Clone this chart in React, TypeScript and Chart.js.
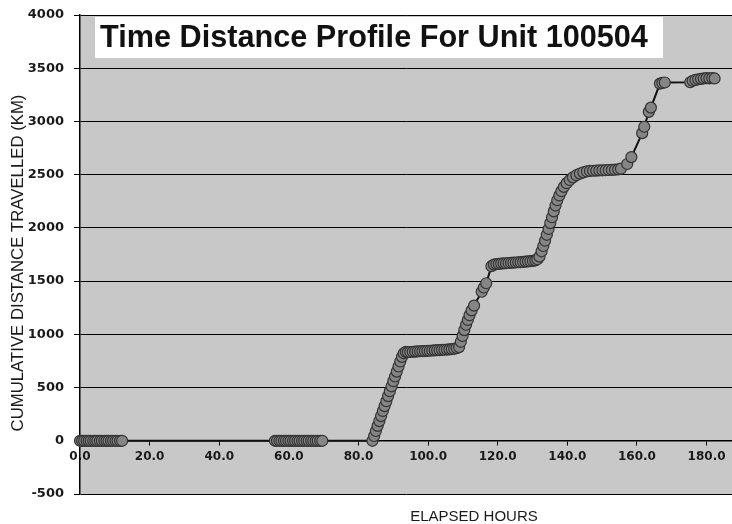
import { useEffect, useRef } from "react";
import { Chart, registerables } from "chart.js";

Chart.register(...registerables);

const chartTitle = "Time Distance Profile For Unit 100504";
const xAxisTitle = "ELAPSED HOURS";
const yAxisTitle = "CUMULATIVE DISTANCE TRAVELLED (KM)";

const xTickValues = [0, 20, 40, 60, 80, 100, 120, 140, 160, 180];
const yTickValues = [-500, 0, 500, 1000, 1500, 2000, 2500, 3000, 3500, 4000];

const elapsedHours = [
  // first stationary cluster
  0.0, 0.6, 1.2, 1.9, 2.5, 3.1, 3.8, 4.4, 5.0, 5.7, 6.3, 7.0, 7.6, 8.2, 8.9, 9.5, 10.2, 10.8, 11.5, 12.1,
  // second stationary cluster
  56.0, 56.6, 57.3, 57.9, 58.6, 59.2, 59.9, 60.5, 61.2, 61.8, 62.5, 63.1, 63.8, 64.4, 65.1, 65.7, 66.4, 67.0, 67.7, 68.3, 69.0, 69.6,
  // first climb
  84.0, 84.5, 85.0, 85.5, 86.0, 86.5, 87.0, 87.5, 88.0, 88.5, 89.0, 89.5, 90.0, 90.5, 91.0, 91.5, 92.0, 92.5, 93.0, 93.6,
  // plateau ~840
  94.2, 94.9, 95.6, 96.3, 97.0, 97.7, 98.4, 99.1, 99.8, 100.5, 101.2, 101.9, 102.6, 103.3, 104.0, 104.7, 105.4, 106.1, 106.8, 107.5, 108.2,
  // second climb
  108.9, 109.4, 109.9, 110.4, 110.9, 111.4, 111.9, 112.5, 113.2, 115.4, 116.0, 116.7, 118.2,
  // plateau ~1670
  118.9, 119.6, 120.3, 121.0, 121.7, 122.4, 123.1, 123.8, 124.5, 125.2, 125.9, 126.6, 127.3, 128.0, 128.7, 129.4, 130.1, 130.8, 131.4,
  // third climb
  132.0, 132.6, 133.1, 133.6, 134.1, 134.6, 135.1, 135.6, 136.1, 136.6, 137.1, 137.7, 138.3, 139.0, 139.8, 140.7, 141.6, 142.6, 143.6, 144.6, 145.6,
  // plateau ~2540
  146.5, 147.4, 148.3, 149.2, 150.1, 151.0, 151.9, 152.8, 153.7, 154.6, 155.4,
  // final climb
  157.2, 158.4, 161.5, 162.1, 163.4, 164.0, 166.6, 167.3, 168.0,
  // end cluster
  175.3, 176.0, 176.8, 177.6, 178.4, 179.2, 180.0, 180.8, 181.6, 182.3,
];

const cumulativeKm = [
  0, 0, 0, 0, 0, 0, 0, 0, 0, 0, 0, 0, 0, 0, 0, 0, 0, 0, 0, 0,
  0, 0, 0, 0, 0, 0, 0, 0, 0, 0, 0, 0, 0, 0, 0, 0, 0, 0, 0, 0, 0, 0,
  0, 45, 92, 140, 185, 232, 280, 326, 372, 420, 466, 512, 560, 604, 650, 698, 745, 788, 822, 835,
  833, 834, 836, 838, 839, 841, 842, 843, 845, 846, 848, 849, 851, 852, 854, 855, 857, 859, 861, 864, 871,
  880, 930, 985, 1040, 1090, 1135, 1180, 1225, 1270, 1400, 1440, 1480, 1640,
  1655, 1660, 1662, 1665, 1667, 1668, 1670, 1672, 1673, 1675, 1677, 1678, 1680, 1683, 1685, 1687, 1690, 1695, 1705,
  1730, 1780, 1830, 1880, 1935, 1990, 2045, 2100, 2155, 2210, 2260, 2305, 2345, 2385, 2420, 2450, 2475, 2495, 2510, 2522, 2530,
  2535, 2537, 2538, 2540, 2541, 2542, 2544, 2545, 2547, 2550, 2556,
  2600, 2665, 2890, 2950, 3090, 3130, 3355, 3362, 3366,
  3368, 3382, 3390, 3396, 3400, 3404, 3407, 3405, 3407, 3404,
];

export default function App() {
  const ref = useRef<HTMLCanvasElement>(null);

  useEffect(() => {
    if (!ref.current) return;
    const points = elapsedHours.map((x, i) => ({ x, y: cumulativeKm[i] }));

    const decor = {
      id: "decor",
      beforeDraw(chart: any) {
        const { ctx, chartArea: a } = chart;
        ctx.save();
        ctx.fillStyle = "#c8c8c8";
        ctx.fillRect(a.left, a.top, a.right - a.left, a.bottom - a.top);
        ctx.restore();
      },
      afterDraw(chart: any) {
        const { ctx } = chart;
        ctx.save();
        // title box
        ctx.fillStyle = "#ffffff";
        ctx.fillRect(95, 17, 568, 41);
        let size = 30;
        ctx.font = `bold ${size}px "Liberation Sans", Arial, sans-serif`;
        const w = ctx.measureText(chartTitle).width;
        size = (size * 548) / w;
        ctx.font = `bold ${size}px "Liberation Sans", Arial, sans-serif`;
        ctx.fillStyle = "#111111";
        ctx.textAlign = "center";
        ctx.textBaseline = "alphabetic";
        ctx.fillText(chartTitle, 374, 47);

        // x axis title
        ctx.font = `15px "Liberation Sans", Arial, sans-serif`;
        ctx.textBaseline = "middle";
        ctx.fillStyle = "#1a1a1a";
        ctx.fillText(xAxisTitle, 474, 517);

        // y axis title
        ctx.translate(18, 263);
        ctx.rotate(-Math.PI / 2);
        let ys = 15;
        ctx.font = `${ys}px "Liberation Sans", Arial, sans-serif`;
        const yw = ctx.measureText(yAxisTitle).width;
        ys = (ys * 337) / yw;
        ctx.font = `${ys}px "Liberation Sans", Arial, sans-serif`;
        ctx.fillText(yAxisTitle, 0, 0);
        ctx.restore();
      },
    };

    const tickFont = { family: '"DejaVu Sans", sans-serif', size: 12, weight: "bold" as const };
    const yTickFont = { family: '"DejaVu Sans", sans-serif', size: 13, weight: "bold" as const };

    const chart = new Chart(ref.current, {
      type: "scatter",
      data: {
        datasets: [
          {
            data: points,
            showLine: true,
            borderColor: "#111111",
            borderWidth: 2,
            pointRadius: 5.5,
            pointBackgroundColor: "#858585",
            pointBorderColor: "#333333",
            pointBorderWidth: 1.2,
            clip: false as any,
          },
        ],
      },
      options: {
        animation: false,
        responsive: true,
        maintainAspectRatio: false,
        layout: { autoPadding: false, padding: { top: 15, bottom: 30, left: 0, right: 0 } },
        plugins: { legend: { display: false }, tooltip: { enabled: false }, title: { display: false } },
        scales: {
          x: {
            type: "linear",
            position: { y: 0 } as any,
            min: 0,
            max: 187.3,
            afterBuildTicks: (scale: any) => {
              scale.ticks = xTickValues.map((v) => ({ value: v }));
            },
            afterFit: (scale: any) => {
              scale.paddingRight = 0;
              scale.paddingLeft = 0;
            },
            ticks: {
              callback: (v: any) => Number(v).toFixed(1),
              font: tickFont,
              color: "#1a1a1a",
              padding: 5,
              maxRotation: 0,
              autoSkip: false,
            },
            grid: { drawOnChartArea: false, drawTicks: true, tickLength: 4, color: "#000000" },
            border: { color: "#000000", width: 1.5 },
          },
          y: {
            type: "linear",
            position: "left",
            min: -500,
            max: 4000,
            afterBuildTicks: (scale: any) => {
              scale.ticks = yTickValues.map((v) => ({ value: v }));
            },
            afterFit: (scale: any) => {
              scale.width = 80;
              scale.paddingTop = 0;
              scale.paddingBottom = 0;
            },
            ticks: {
              callback: (v: any) => String(v),
              font: yTickFont,
              color: "#1a1a1a",
              padding: 10,
            },
            grid: { color: "#000000", lineWidth: 1, tickLength: 6, drawTicks: true },
            border: { color: "#000000", width: 1.5 },
          },
        },
      },
      plugins: [decor],
    });

    return () => chart.destroy();
  }, []);

  return (
    <div style={{ position: "absolute", left: 0, top: 0, width: 732, height: 524, background: "#ffffff" }}>
      <canvas ref={ref} />
    </div>
  );
}
